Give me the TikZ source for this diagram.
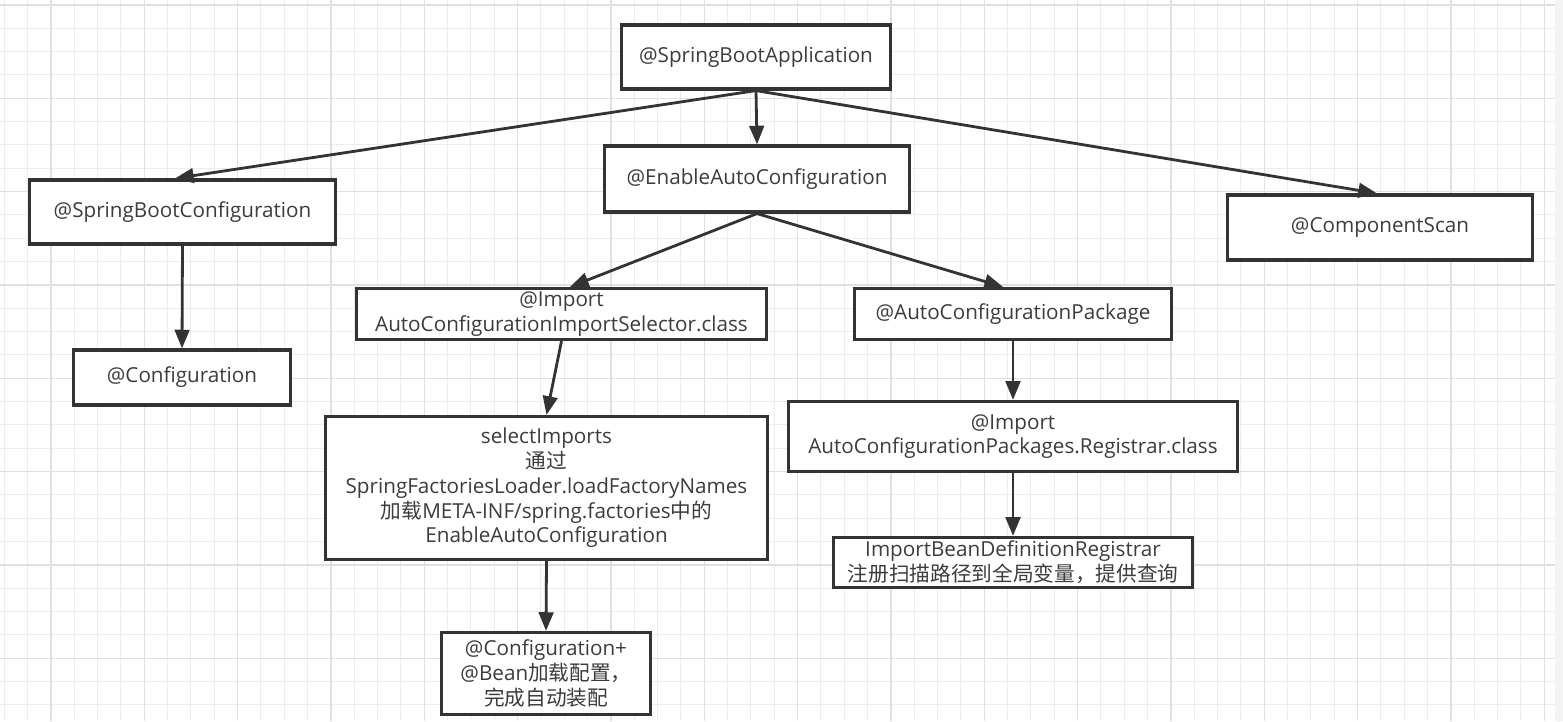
\documentclass[tikz,border=0pt]{standalone}
\usepackage{fontspec}
\setmainfont{Open Sans}
\newfontfamily\cjkfont{Noto Sans CJK SC}
\newcommand\zh[1]{{\cjkfont #1}}
\usetikzlibrary{arrows.meta}
\definecolor{boxline}{HTML}{333333}
\definecolor{boxtext}{HTML}{3C3C3C}
\definecolor{minorgrid}{HTML}{EDEDED}
\definecolor{majorgrid}{HTML}{E0E0E0}
\definecolor{edgestrip}{HTML}{F3F3F3}

\tikzset{
  anno/.style={draw=boxline, line width=2.4pt, fill=white, text=boxtext,
    align=center, inner sep=0pt,
    font=\fontsize{15.5}{18.6}\selectfont},
  arr/.style={-{Triangle[length=14pt,width=11pt]}, draw=boxline, line width=2.1pt},
  minorline/.style={draw=minorgrid, line width=0.75pt},
  majorline/.style={draw=majorgrid, line width=1.1pt}
}

\begin{document}
\begin{tikzpicture}[x=0.75pt,y=-0.75pt]
  \useasboundingbox (0,0) rectangle (1563,721);
  % grid background
  \fill[white] (0,0) rectangle (1563,721);
  \fill[edgestrip] (1555,0) rectangle (1563,721);
  \foreach \i in {0,...,66} \draw[minorline] ({4.33+23.333*\i},0) -- ++(0,721);
  \foreach \i in {0,...,30} \draw[minorline] (0,{5+23.333*\i}) -- ++(1555,0);
  \foreach \i in {0,...,16} \draw[majorline] ({51+93.333*\i},0) -- ++(0,721);
  \foreach \i in {0,...,7} \draw[majorline] (0,{5+93.333*\i}) -- ++(1555,0);

  % annotations
  \node[anno, minimum width=202pt, minimum height=48pt] (sba) at (756,57) {@SpringBootApplication};
  \node[anno, minimum width=229pt, minimum height=49.5pt] (eac) at (757,179) {@EnableAutoConfiguration};
  \node[anno, minimum width=229.5pt, minimum height=48pt] (sbc) at (182.5,212) {@SpringBootConfiguration};
  \node[anno, minimum width=163pt, minimum height=41.25pt] (conf) at (182,377.5) {@Configuration};
  \node[anno, minimum width=229pt, minimum height=48.75pt] (cs) at (1380,227.5) {@ComponentScan};

  \node[anno, minimum width=307.5pt, minimum height=38.25pt] (isel) at (561.5,314)
    {@Import\\AutoConfigurationImportSelector.class};
  \node[anno, minimum width=331.5pt, minimum height=107.25pt] (sel) at (546.5,488)
    {selectImports\\\zh{通过}\\SpringFactoriesLoader.loadFactoryNames\\
     \zh{加载}META-INF/spring.factories\zh{中的}\\EnableAutoConfiguration};
  \node[anno, minimum width=156.75pt, minimum height=61.5pt] (cfgb) at (546,673.5)
    {@Configuration+\\@Bean\zh{加载配置，}\\\zh{完成自动装配}};

  \node[anno, minimum width=237.75pt, minimum height=38.25pt] (acp) at (1013,314) {@AutoConfigurationPackage};
  \node[anno, minimum width=336.75pt, minimum height=52.5pt] (reg) at (1013,436.5)
    {@Import\\AutoConfigurationPackages.Registrar.class};
  \node[anno, minimum width=269.25pt, minimum height=37.5pt] (ibdr) at (1013,562.5)
    {ImportBeanDefinitionRegistrar\\\zh{注册扫描路径到全局变量，提供查询}};

  % connectors
  \draw[arr] (sba.south) -- ([xshift=-5.6pt]sbc.north);
  \draw[arr] (sba.south) -- (eac.north);
  \draw[arr] (sba.south) -- ([xshift=-2.3pt]cs.north);
  \draw[arr] (eac.south) -- ([xshift=6.4pt]isel.north);
  \draw[arr] (eac.south) -- ([xshift=-7.5pt]acp.north);
  \draw[arr] (sbc.south) -- (conf.north);
  \draw[arr] (isel.south) -- (sel.north);
  \draw[arr] (sel.south) -- (cfgb.north);
  \draw[arr] (acp.south) -- (reg.north);
  \draw[arr] (reg.south) -- (ibdr.north);
\end{tikzpicture}
\end{document}
